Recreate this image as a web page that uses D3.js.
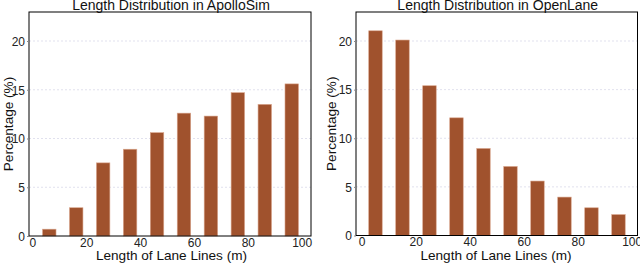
<!DOCTYPE html>
<html><head><meta charset="utf-8">
<script src="https://cdn.jsdelivr.net/npm/d3@7"></script>
<style>body{margin:0;background:#fff}svg{display:block;font-family:"Liberation Sans",Arial,sans-serif}</style>
</head><body><svg id="c" width="640" height="264"></svg>
<script>
const xTicks = [0, 20, 40, 60, 80, 100];
const yTicks = [0, 5, 10, 15, 20];
const apolloCenters = [6.3, 16.3, 26.3, 36.3, 46.3, 56.3, 66.3, 76.3, 86.3, 96.3];
const apolloValues = [0.7, 2.9, 7.5, 8.9, 10.6, 12.6, 12.3, 14.7, 13.5, 15.6];
const openCenters = [5.1, 15.1, 25.1, 35.1, 45.1, 55.1, 65.1, 75.1, 85.1, 95.1];
const openValues = [21.05, 20.1, 15.4, 12.1, 8.95, 7.1, 5.6, 3.95, 2.85, 2.15];
const titles = ["Length Distribution in ApolloSim", "Length Distribution in OpenLane"];
const xLabel = "Length of Lane Lines (m)";
const yLabel = "Percentage (%)";

const svg = d3.select("#c");
const panels = [
  {title: titles[0], centers: apolloCenters, values: apolloValues,
   box: [29, 311], x0: 32.3, x100: 301.7, y0: 236, y20: 41, top: 12, ylx: 8, xlc: 171.5},
  {title: titles[1], centers: openCenters, values: openValues,
   box: [356, 637.5], x0: 361.7, x100: 631.7, y0: 235.5, y20: 41, top: 12, ylx: 331, xlc: 496}
];

panels.forEach(p => {
  const x = d3.scaleLinear().domain([0, 100]).range([p.x0, p.x100]);
  const y = d3.scaleLinear().domain([0, 20]).range([p.y0, p.y20]);
  const g = svg.append("g");
  // grid
  g.selectAll(".grid").data(yTicks.filter(d => d > 0)).join("line")
    .attr("x1", p.box[0]).attr("x2", p.box[1])
    .attr("y1", d => y(d)).attr("y2", d => y(d))
    .attr("stroke", "#d4d4e6").attr("stroke-width", 0.7).attr("stroke-dasharray", "2,2");
  // bars
  const bw = x(5) - x(0);
  g.selectAll(".bar").data(p.values).join("rect")
    .attr("x", (d, i) => x(p.centers[i]) - bw / 2)
    .attr("width", bw)
    .attr("y", d => y(d))
    .attr("height", d => y(0) - y(d))
    .attr("fill", "#a0522d")
    .attr("stroke", "#d9a58c").attr("stroke-width", 0.6);
  // box
  g.append("rect").attr("x", p.box[0]).attr("y", p.top)
    .attr("width", p.box[1] - p.box[0]).attr("height", p.y0 - p.top)
    .attr("fill", "none").attr("stroke", "#000").attr("stroke-width", 1);
  // y axis
  const ya = d3.axisLeft(y).tickValues(yTicks).tickSize(2).tickPadding(2);
  g.append("g").attr("transform", `translate(${p.box[0]},0)`).call(ya)
    .call(s => s.select(".domain").remove())
    .call(s => s.selectAll("text").attr("font-size", 12).attr("fill", "#222").attr("dy", "0.36em"))
    .call(s => s.selectAll("line").attr("stroke", "#888"));
  // x axis
  const xa = d3.axisBottom(x).tickValues(xTicks).tickSize(0).tickPadding(2);
  g.append("g").attr("transform", `translate(0,${p.y0})`).call(xa)
    .call(s => s.select(".domain").remove())
    .call(s => s.selectAll("text").attr("font-size", 12).attr("fill", "#222"));
  // labels
  g.append("text").attr("x", p.xlc).attr("y", 260).attr("text-anchor", "middle")
    .attr("font-size", 13.6).attr("fill", "#111").text(xLabel);
  g.append("text").attr("transform", `translate(${p.ylx},${(p.top + p.y0) / 2}) rotate(-90)`)
    .attr("text-anchor", "middle").attr("dy", "0.35em")
    .attr("font-size", 13.6).attr("fill", "#111").text(yLabel);
  g.append("text").attr("x", (p.box[0] + p.box[1]) / 2 + 1).attr("y", 10)
    .attr("text-anchor", "middle").attr("font-size", 14).attr("fill", "#111").text(p.title);
});
</script></body></html>
